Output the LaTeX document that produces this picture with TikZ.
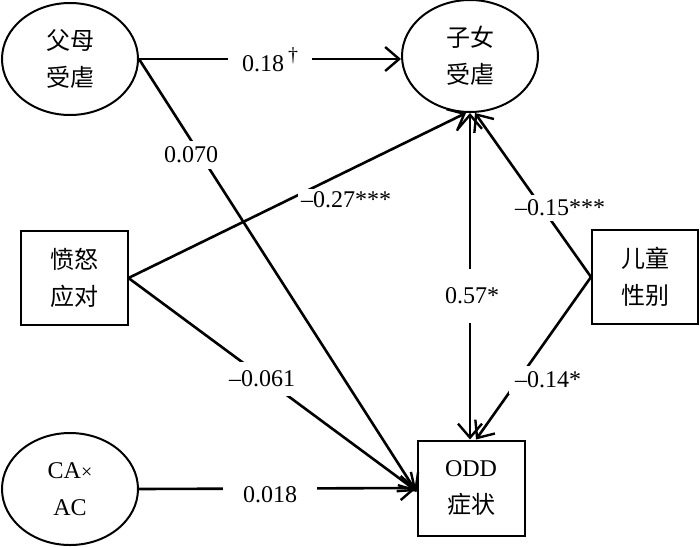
\documentclass[tikz,border=0pt]{standalone}
\usepackage{fontspec}
\setmainfont{Liberation Serif}
\newfontfamily\cjk{Noto Sans CJK SC}
\usetikzlibrary{shapes.geometric,arrows.meta}
\begin{document}
\begin{tikzpicture}[x=1pt,y=-1pt,
  every node/.style={font=\fontsize{24}{37}\selectfont},
  ell/.style={ellipse,draw,line width=2pt,minimum width=136pt,minimum height=112pt,inner sep=0pt,align=center},
  box/.style={rectangle,draw,line width=2pt,minimum width=107pt,minimum height=94pt,inner sep=0pt,align=center},
  arr/.style={line width=2.6pt,-{Straight Barb[length=14pt,width=24pt,line width=2.4pt]}},
  darr/.style={line width=2.6pt,{Straight Barb[length=14pt,width=24pt,line width=2.4pt]}-{Straight Barb[length=14pt,width=24pt,line width=2.4pt]}},
  lbl/.style={fill=white,inner sep=3pt}
]
\useasboundingbox (0,0) rectangle (700,546);
\fill[white] (0,0) rectangle (700,546);

\node[ell] (pa) at (70,59) {{\cjk 父母}\\{\cjk 受虐}};
\node[ell] (ch) at (470,56) {{\cjk 子女}\\{\cjk 受虐}};
\node[box] (ang) at (74,278) {{\cjk 愤怒}\\{\cjk 应对}};
\node[box, minimum width=106pt] (sex) at (645,277) {{\cjk 儿童}\\{\cjk 性别}};
\node[ell] (cax) at (70,489) {CA{\fontsize{20}{20}\selectfont ×}\\AC};
\node[box, minimum height=95pt] (odd) at (471,488) {ODD\\{\cjk 症状}};

\draw[arr] (pa.east) -- (pa.east -| ch.west);
\draw[arr] (pa.east) -- ([yshift=-4pt]odd.west);
\draw[arr] (ang.east) -- ([xshift=-4pt]ch.south);
\draw[arr] (ang.east) -- ([yshift=-3pt]odd.west);
\draw[arr] (cax.east) -- (odd.west);
\draw[darr] (ch.south) -- (ch.south |- odd.north);
\draw[arr] (sex.west) -- ([xshift=5pt]ch.south);
\draw[arr] (sex.west) -- ([xshift=5pt]odd.north);

\node[lbl, inner xsep=14pt] (l1) at (270,60) {0.18\,\raisebox{0.42em}{\fontsize{20}{20}\selectfont †}};
\node[lbl, inner sep=6pt] (l2) at (191,155) {0.070};
\node[lbl] (l3) at (346,200) {\textendash0.27***};
\node[lbl, inner sep=5pt] (l4) at (560,208) {\textendash0.15***};
\node[lbl, inner xsep=3pt, inner ysep=19pt] (l5) at (472,296) {0.57*};
\node[lbl, inner sep=9pt] (l6) at (262,379) {\textendash0.061};
\node[lbl, inner sep=6pt] (l7) at (548,380) {\textendash0.14*};
\node[lbl, inner xsep=20pt, inner ysep=6pt] (l8) at (270,495) {0.018};
\end{tikzpicture}
\end{document}
